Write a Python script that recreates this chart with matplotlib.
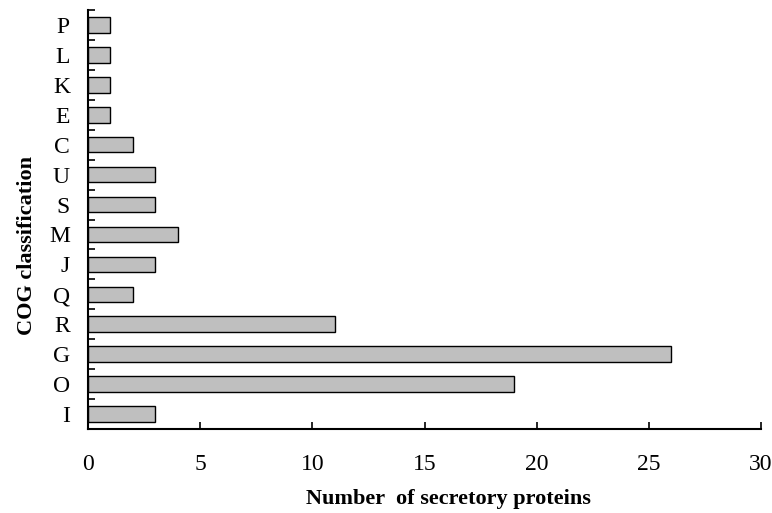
import matplotlib
matplotlib.use("Agg")
import matplotlib.pyplot as plt
import numpy as np

categories = ["I", "O", "G", "R", "Q", "J", "M", "S", "U", "C", "E", "K", "L", "P"]
values = [3, 19, 26, 11, 2, 3, 4, 3, 3, 2, 1, 1, 1, 1]

plt.rcParams['font.family'] = ['Liberation Serif', 'DejaVu Serif']

fig = plt.figure(figsize=(7.72, 5.13), dpi=100)
ax = fig.add_axes([88/772, 1 - 429/513, (761-88)/772, (429-10)/513])

y = np.arange(len(categories))
ax.barh(y, values, height=0.52, color="#bfbfbf", edgecolor="black", linewidth=1.0)

ax.set_xlim(0, 30)
ax.set_ylim(-0.5, len(categories) - 0.5)
ax.set_xticks([0, 5, 10, 15, 20, 25, 30])
ax.set_yticks(y)
ax.set_yticklabels(categories)
ax.set_yticks(np.arange(-0.5, len(categories), 1.0), minor=True)
ax.tick_params(axis='y', which='major', length=0, labelsize=17, pad=13)
ax.tick_params(axis='y', which='minor', direction='in', length=5, width=1.2)
ax.tick_params(axis='x', direction='in', length=5, width=1.2, labelsize=17, pad=18)

for s in ['top', 'right']:
    ax.spines[s].set_visible(False)
for s in ['left', 'bottom']:
    ax.spines[s].set_linewidth(1.5)

ax.set_xlabel("Number  of secretory proteins", fontsize=16, fontweight='bold')
ax.set_ylabel("COG classification", fontsize=16, fontweight='bold')
ax.xaxis.set_label_coords(0.535, -0.143)
ax.yaxis.set_label_coords(-0.076, 0.439)

fig.savefig("out.png", dpi=100)
